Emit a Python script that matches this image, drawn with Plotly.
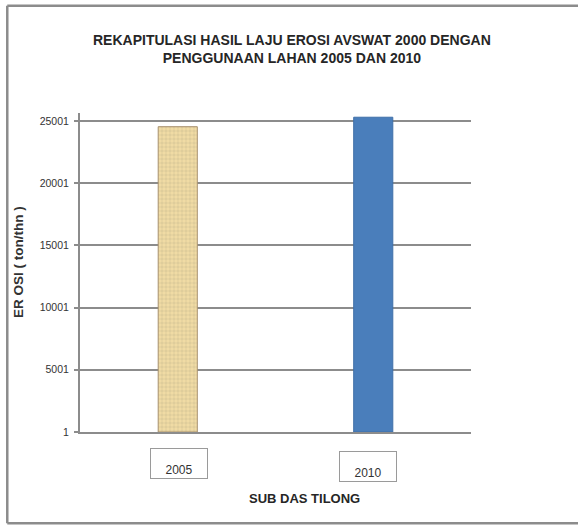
import plotly.graph_objects as go

categories = ["2005", "2010"]
erosi_values = [24540, 25300]
y_tick_values = [1, 5001, 10001, 15001, 20001, 25001]
y_tick_labels = ["1", "5001", "10001", "15001", "20001", "25001"]
bar_colors = ["#F0DBA4", "#4A7EBB"]
bar_lines = ["#A8916E", "#3F6FA8"]

title_text = "REKAPITULASI HASIL LAJU EROSI AVSWAT 2000 DENGAN<br>PENGGUNAAN LAHAN 2005 DAN 2010"
x_title = "SUB DAS TILONG"
y_title = "ER OSI ( ton/thn )"

SANS = "Liberation Sans, Arial, sans-serif"

fig = go.Figure()
fig.add_trace(go.Bar(
    x=categories,
    y=erosi_values,
    width=0.2,
    marker=dict(
        color=bar_colors,
        line=dict(color=bar_lines, width=1),
        pattern=dict(shape=["+", ""], fgcolor="#E2C98F", size=4, solidity=0.1),
    ),
    showlegend=False,
))

# boxed category labels
box_y = [-0.1003, -0.1097]
box_shift = [1, -5]
for i, (cat, yy, sh) in enumerate(zip(categories, box_y, box_shift)):
    fig.add_annotation(
        x=i, xref="x", y=yy, yref="paper", xshift=sh,
        xanchor="center", yanchor="middle",
        text=cat, showarrow=False,
        font=dict(family=SANS, size=12, color="#333333"),
        width=54, height=27, align="center", valign="bottom",
        bordercolor="#9A9A9A", borderwidth=1, borderpad=1,
        bgcolor="white",
    )

fig.add_annotation(
    x=(304 - 80) / 391, xref="paper", y=-0.207, yref="paper",
    xanchor="center", yanchor="middle",
    text="<b>" + x_title + "</b>", showarrow=False,
    font=dict(family=SANS, size=13, color="#262626"),
)

# y-axis title
fig.add_annotation(
    x=(18 - 80) / 391, xref="paper", y=(432 - 262) / 319, yref="paper",
    xanchor="center", yanchor="middle", textangle=-90,
    text="<b>" + y_title + "</b>", showarrow=False,
    font=dict(family=SANS, size=13.5, color="#333333"),
)

# outer frame (open on the right)
fx0, fx1, fy0, fy1 = -0.186, 1.4, -0.286, 1.336
frame_line = dict(color="#8C8C8C", width=2.5)
fig.add_shape(type="line", xref="paper", yref="paper", x0=fx0, x1=fx0, y0=fy0, y1=fy1, line=frame_line, layer="below")
fig.add_shape(type="line", xref="paper", yref="paper", x0=fx0, x1=fx1, y0=fy1, y1=fy1, line=frame_line, layer="below")
fig.add_shape(type="line", xref="paper", yref="paper", x0=fx0, x1=fx1, y0=fy0, y1=fy0, line=frame_line, layer="below")

fig.update_layout(
    width=578, height=527,
    margin=dict(l=80, r=107, t=113, b=95, autoexpand=False),
    paper_bgcolor="white", plot_bgcolor="white",
    title=dict(
        text="<b>" + title_text + "</b>",
        x=0.505, xanchor="center", y=0.915, yanchor="middle",
        font=dict(family=SANS, size=14, color="#262626"),
    ),
    xaxis=dict(
        type="category",
        showticklabels=False, showgrid=False,
        showline=True, linecolor="#8C8C8C", linewidth=2,
        ticks="", range=[-0.5, 1.5], automargin=False,
    ),
    yaxis=dict(
        range=[1, 25640], automargin=False,
        tickvals=y_tick_values, ticktext=y_tick_labels,
        tickfont=dict(family=SANS, size=10.5, color="#333333"),
        ticklabelstandoff=3,
        showgrid=True, gridcolor="#8C8C8C", gridwidth=2,
        showline=True, linecolor="#8C8C8C", linewidth=2,
        ticks="outside", ticklen=4, tickcolor="#8C8C8C", tickwidth=2,
        zeroline=False,
    ),
    bargap=0.8,
)

fig.write_html("out.html", config={"displayModeBar": False},
               post_script="document.body.style.margin='0';")
